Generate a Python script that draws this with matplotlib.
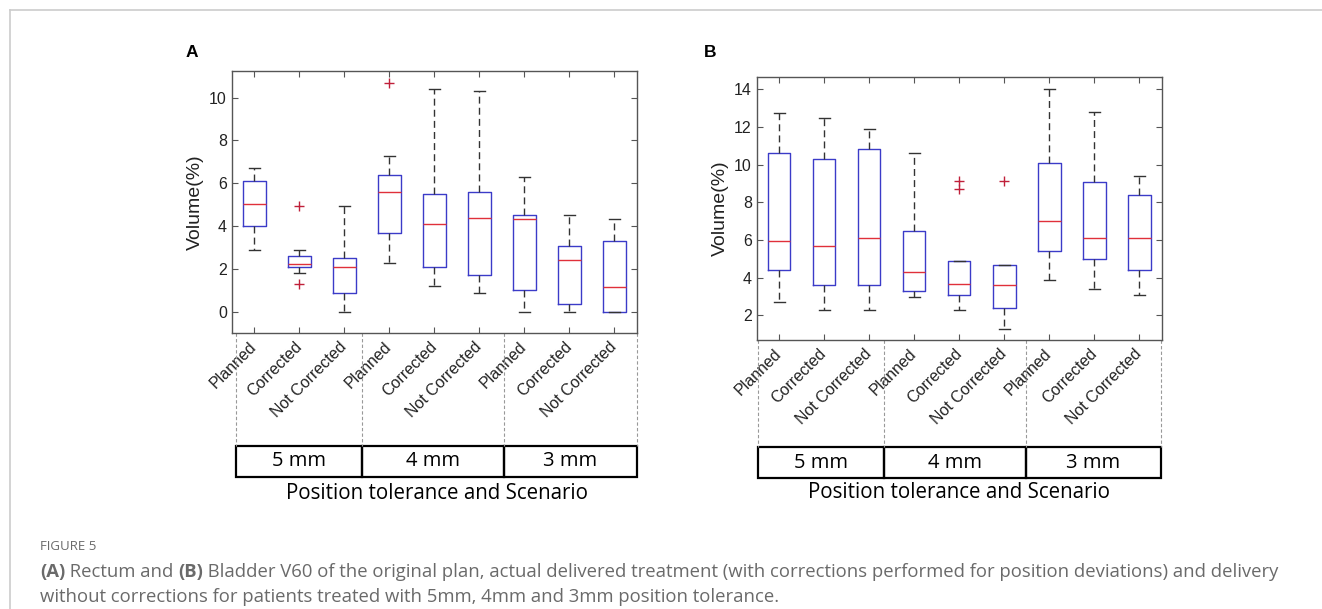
import numpy as np
import matplotlib
matplotlib.use('Agg')
import matplotlib.pyplot as plt
from matplotlib.patches import Rectangle
from matplotlib.lines import Line2D
from matplotlib.transforms import blended_transform_factory, ScaledTranslation

plt.rcParams['font.family'] = ['Liberation Sans', 'DejaVu Sans']

# categories
scenarios = ['Planned', 'Corrected', 'Not Corrected'] * 3
tolerances = ['5 mm', '4 mm', '3 mm']

# (A) Rectum V60 (%)
rectum_lo = [2.89, 1.82, 0.0, 2.3, 1.2, 0.9, 0.0, 0.0, 0.0]
rectum_q1 = [4.01, 2.1, 0.9, 3.7, 2.1, 1.7, 1.01, 0.39, 0.0]
rectum_med = [5.05, 2.25, 2.1, 5.6, 4.1, 4.4, 4.35, 2.44, 1.15]
rectum_q3 = [6.1, 2.6, 2.49, 6.39, 5.5, 5.6, 4.51, 3.09, 3.31]
rectum_hi = [6.72, 2.89, 4.93, 7.28, 10.4, 10.3, 6.3, 4.51, 4.31]
rectum_out = [[], [4.93, 1.32], [], [10.68], [], [], [], [], []]

# (B) Bladder V60 (%)
bladder_lo = [2.69, 2.3, 2.3, 2.99, 2.3, 1.29, 3.89, 3.4, 3.08]
bladder_q1 = [4.41, 3.59, 3.59, 3.31, 3.08, 2.41, 5.4, 4.99, 4.41]
bladder_med = [5.95, 5.68, 6.09, 4.28, 3.68, 3.59, 6.99, 6.09, 6.09]
bladder_q3 = [10.6, 10.32, 10.81, 6.5, 4.9, 4.69, 10.09, 9.1, 8.39]
bladder_hi = [12.73, 12.5, 11.9, 10.6, 4.9, 4.69, 14.0, 12.81, 9.4]
bladder_out = [[], [], [], [], [9.11, 8.71], [9.11], [], [], []]

BLUE = '#3b3bc8'
RED = '#e0303a'
INK = '#333333'
W, H = 1322, 609


def make_stats(lo, q1, med, q3, hi, out):
    return [dict(whislo=a, q1=b, med=c, q3=d, whishi=e, fliers=f)
            for a, b, c, d, e, f in zip(lo, q1, med, q3, hi, out)]


def draw_panel(fig, rect, stats, ylim, yticks, seps, box_y, title_y):
    ax = fig.add_axes(rect)
    pos = np.arange(1, len(stats) + 1)
    ax.bxp(stats, positions=pos, widths=0.5, showfliers=True,
           boxprops=dict(color=BLUE, lw=1.0),
           medianprops=dict(color=RED, lw=1.0),
           whiskerprops=dict(color=INK, lw=1.0, ls=(0, (5, 3))),
           capprops=dict(color=INK, lw=1.0),
           flierprops=dict(marker='+', markeredgecolor='#c0203a', markersize=7,
                           markeredgewidth=1.0, linestyle='none'))
    ax.set_xlim(0.5, 9.5)
    ax.set_ylim(*ylim)
    ax.set_yticks(yticks)
    ax.set_xticks(pos)
    ax.set_xticklabels(scenarios, rotation=45, ha='right', va='center',
                       rotation_mode='anchor', fontsize=11.2, color='#222222')
    off = ScaledTranslation(16 / 100, -6 / 100, fig.dpi_scale_trans)
    for lab in ax.get_xticklabels():
        lab.set_transform(lab.get_transform() + off)
    ax.tick_params(direction='in', top=True, right=True, length=4,
                   width=0.8, color='#555555', labelsize=11.5, labelcolor='#222222')
    ax.tick_params(axis='x', pad=8)
    for s in ax.spines.values():
        s.set_color('#555555')
        s.set_linewidth(1.0)
    ax.set_ylabel('Volume(%)', fontsize=14, color='#222222', labelpad=4)

    tr = blended_transform_factory(ax.transData, ax.transAxes)
    top, bot = box_y
    for x in seps:
        ax.add_line(Line2D([x, x], [0, top], transform=tr, clip_on=False,
                           color='#999999', lw=0.8, ls=(0, (3, 2))))
    for i, name in enumerate(tolerances):
        x0, x1 = seps[i], seps[i + 1]
        ax.add_patch(Rectangle((x0, bot), x1 - x0, top - bot, transform=tr,
                               clip_on=False, fill=False, ec='black', lw=1.6))
        ax.text((x0 + x1) / 2, (top + bot) / 2, name, transform=tr,
                ha='center', va='center', fontsize=14.5, family='Open Sans')
    ax.text((seps[0] + seps[-1]) / 2, title_y, 'Position tolerance and Scenario',
            transform=tr, ha='center', va='center', fontsize=14.8, family='Open Sans')
    return ax


fig = plt.figure(figsize=(W / 100, H / 100), dpi=100)

rectum = make_stats(rectum_lo, rectum_q1, rectum_med, rectum_q3, rectum_hi, rectum_out)
bladder = make_stats(bladder_lo, bladder_q1, bladder_med, bladder_q3, bladder_hi, bladder_out)

draw_panel(fig, [0.1753, 0.4527, 0.3064, 0.4312], rectum, (-1.0, 11.25),
           [0, 2, 4, 6, 8, 10], [0.6, 3.4, 6.55, 9.5], (-0.429, -0.546), -0.609)
draw_panel(fig, [0.5724, 0.4417, 0.3064, 0.4323], bladder, (0.69, 14.67),
           [2, 4, 6, 8, 10, 12, 14], [0.52, 3.33, 6.48, 9.48], (-0.4075, -0.525), -0.581)

# panel letters
fig.text(186 / W, 1 - 52.5 / H, 'A', fontsize=12.5, fontweight='bold', va='center')
fig.text(704 / W, 1 - 52.5 / H, 'B', fontsize=12.5, fontweight='bold', va='center')

# card border
fig.add_artist(Line2D([9.5 / W, 1.0], [1 - 9.5 / H] * 2, transform=fig.transFigure,
                      color='#cccccc', lw=1.2))
fig.add_artist(Line2D([9.5 / W] * 2, [0.0, 1 - 9.5 / H], transform=fig.transFigure,
                      color='#cccccc', lw=1.2))

# caption
cap = dict(family='Open Sans', color='#6a6a6a', ha='left', va='center')
fig.text(40 / W, 1 - 547 / H, 'FIGURE 5', fontsize=9.5, **cap)
line1 = [('(A)', 'bold'), (' Rectum and ', 'normal'), ('(B)', 'bold'),
         (' Bladder V60 of the original plan, actual delivered treatment (with corrections '
          'performed for position deviations) and delivery', 'normal')]
renderer = fig.canvas.get_renderer()
x = 40 / W
for s, w in line1:
    t = fig.text(x, 1 - 572 / H, s, fontsize=13.3, fontweight=w, **cap)
    x += t.get_window_extent(renderer).width / fig.bbox.width
fig.text(40 / W, 1 - 597 / H,
         'without corrections for patients treated with 5mm, 4mm and 3mm position tolerance.',
         fontsize=13.3, **cap)

fig.savefig('out.png', dpi=100)
